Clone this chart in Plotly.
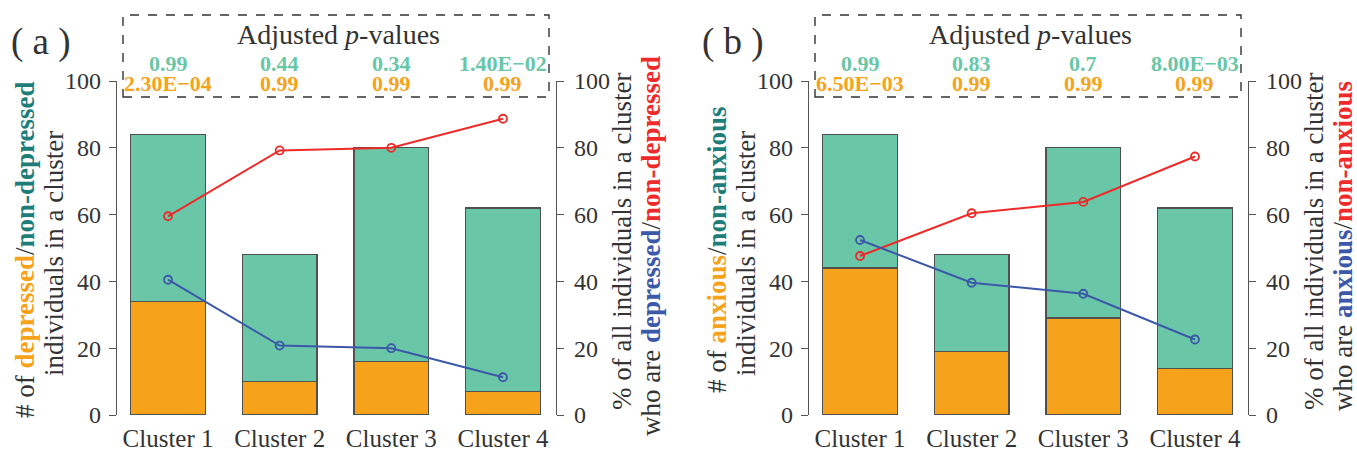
import plotly.graph_objects as go

# ---------------- data ----------------
clusters = ["Cluster 1", "Cluster 2", "Cluster 3", "Cluster 4"]

# panel (a): depression
dep_counts = [34, 10, 16, 7]
nondep_counts = [50, 38, 64, 55]
dep_pct = [40.5, 20.8, 20.0, 11.3]
nondep_pct = [59.5, 79.2, 80.0, 88.7]
p_green_a = ["0.99", "0.44", "0.34", "1.40E\u221202"]
p_orange_a = ["2.30E\u221204", "0.99", "0.99", "0.99"]

# panel (b): anxiety
anx_counts = [44, 19, 29, 14]
nonanx_counts = [40, 29, 51, 48]
anx_pct = [52.4, 39.6, 36.3, 22.6]
nonanx_pct = [47.6, 60.4, 63.8, 77.4]
p_green_b = ["0.99", "0.83", "0.7", "8.00E\u221203"]
p_orange_b = ["6.50E\u221203", "0.99", "0.99", "0.99"]

y_ticks = [0, 20, 40, 60, 80, 100]

# ---------------- style ----------------
W, H = 1357, 453
FONT = "Liberation Serif"
ORANGE = "#F7A21B"
GREEN = "#69C6A6"
TEAL = "#1E7D78"
RED = "#EE2A2A"
BLUE = "#3C58A8"
TXT = "#333333"
AX = "#555555"

def px(x):
    return x / W

def py(y):
    return (H - y) / H

fig = go.Figure()

panels = [
    dict(xa="x", ya="y", ya2="y2", low=dep_counts, high=nondep_counts,
         lo_pct=dep_pct, hi_pct=nondep_pct, pg=p_green_a, po=p_orange_a,
         word="depressed", off=0, tag="( a )"),
    dict(xa="x2", ya="y3", ya2="y4", low=anx_counts, high=nonanx_counts,
         lo_pct=anx_pct, hi_pct=nonanx_pct, pg=p_green_b, po=p_orange_b,
         word="anxious", off=692, tag="( b )"),
]

annotations = []
shapes = []

def ann(**kw):
    d = dict(showarrow=False, xanchor="center", yanchor="middle")
    d.update(kw)
    annotations.append(d)

for p in panels:
    fig.add_trace(go.Bar(x=clusters, y=p["low"], xaxis=p["xa"], yaxis=p["ya"],
                         marker=dict(color=ORANGE, line=dict(color="#505050", width=1.3)),
                         width=0.67, showlegend=False))
    fig.add_trace(go.Bar(x=clusters, y=p["high"], xaxis=p["xa"], yaxis=p["ya"],
                         marker=dict(color=GREEN, line=dict(color="#505050", width=1.3)),
                         width=0.67, showlegend=False))
    fig.add_trace(go.Scatter(x=clusters, y=p["hi_pct"], xaxis=p["xa"], yaxis=p["ya2"],
                             mode="lines+markers",
                             line=dict(color=RED, width=2),
                             marker=dict(symbol="circle-open", size=8, color=RED,
                                         line=dict(width=1.8)),
                             showlegend=False))
    fig.add_trace(go.Scatter(x=clusters, y=p["lo_pct"], xaxis=p["xa"], yaxis=p["ya2"],
                             mode="lines+markers",
                             line=dict(color=BLUE, width=2),
                             marker=dict(symbol="circle-open", size=8, color=BLUE,
                                         line=dict(width=1.8)),
                             showlegend=False))

    o = p["off"]
    # dashed p-value box
    shapes.append(dict(type="rect", xref="paper", yref="paper",
                       x0=px(123 + o), x1=px(549 + o), y0=py(97), y1=py(15),
                       line=dict(color="#333333", width=1.4, dash="dash")))
    ann(xref="paper", yref="paper", x=px(338 + o), y=py(35),
        text="Adjusted <i>p</i>-values",
        font=dict(family=FONT, size=28, color=TXT))
    for c, g, org in zip(clusters, p["pg"], p["po"]):
        ann(xref=p["xa"], yref="paper", x=c, y=py(63), text="<b>" + g + "</b>",
            font=dict(family=FONT, size=22, color=GREEN))
        ann(xref=p["xa"], yref="paper", x=c, y=py(84), text="<b>" + org + "</b>",
            font=dict(family=FONT, size=22, color=ORANGE))
    # panel tag
    ann(xref="paper", yref="paper", x=px(41 + o), y=py(42), text=p["tag"],
        font=dict(family=FONT, size=37, color=TXT))
    w = p["word"]
    left_l1 = ("# of <b><span style='color:" + ORANGE + "'>" + w + "</span></b>/"
               "<b><span style='color:" + TEAL + "'>non-" + w + "</span></b>")
    left_l2 = "individuals in a cluster"
    right_l1 = "% of all individuals in a cluster"
    right_l2 = ("who are <b><span style='color:" + BLUE + "'>" + w + "</span></b>/"
                "<b><span style='color:" + RED + "'>non-" + w + "</span></b>")
    tf = dict(family=FONT, size=27, color=TXT)
    ann(xref="paper", yref="paper", x=px(25 + o), y=py(250), text=left_l1,
        textangle=-90, font=tf)
    ann(xref="paper", yref="paper", x=px(54 + o), y=py(254), text=left_l2,
        textangle=-90, font=tf)
    ann(xref="paper", yref="paper", x=px(622 + o), y=py(242), text=right_l1,
        textangle=-90, font=tf)
    ann(xref="paper", yref="paper", x=px(651 + o), y=py(246), text=right_l2,
        textangle=-90, font=tf)

xrange = [-0.457, 3.475]
ydom = [py(415), py(81)]

def xaxis(dom, anchor):
    return dict(domain=dom, anchor=anchor, range=xrange, showline=False, showgrid=False,
                zeroline=False, ticks="", tickfont=dict(family=FONT, size=25, color=TXT),
                ticklabelstandoff=6, automargin=False)

def yleft(anchor, standoff=3):
    return dict(domain=ydom, anchor=anchor, range=[0, 100], tickvals=y_ticks,
                showline=True, linecolor=AX, linewidth=1.2, ticks="outside", ticklen=7,
                tickcolor=AX, showgrid=False, zeroline=False, automargin=False,
                tickfont=dict(family=FONT, size=24, color=TXT), ticklabelstandoff=standoff)

def yright(anchor, over):
    d = yleft(anchor, standoff=5)
    d.update(overlaying=over, side="right")
    return d

fig.update_layout(
    width=W, height=H,
    margin=dict(l=0, r=0, t=0, b=0),
    paper_bgcolor="white", plot_bgcolor="white",
    barmode="stack", bargap=0.33,
    xaxis=xaxis([px(117), px(556)], "y"),
    yaxis=yleft("x"),
    yaxis2=yright("x", "y"),
    xaxis2=xaxis([px(809), px(1248)], "y3"),
    yaxis3=yleft("x2"),
    yaxis4=yright("x2", "y3"),
    annotations=annotations,
    shapes=shapes,
    font=dict(family=FONT, color=TXT),
)

fig.write_html("out.html", config={"displayModeBar": False},
               post_script="document.body.style.margin='0';")
